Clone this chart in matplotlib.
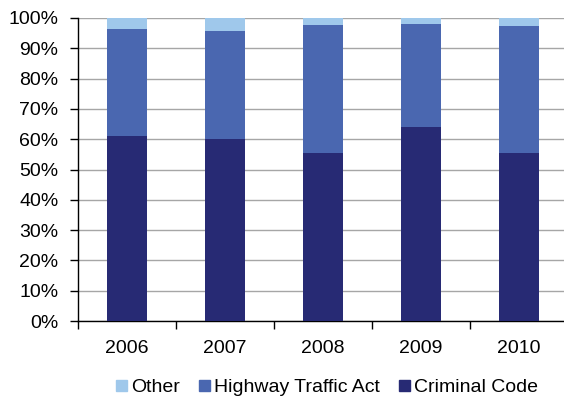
import numpy as np
import matplotlib.pyplot as plt
from matplotlib.patches import Patch
from matplotlib.ticker import PercentFormatter

plt.rcParams['font.family'] = ['Liberation Sans', 'DejaVu Sans']

# Share of charges by statute, per year (%)
years = ['2006', '2007', '2008', '2009', '2010']
criminal_code = [61.0, 60.0, 55.6, 64.1, 55.5]
highway_traffic = [35.4, 35.8, 42.1, 33.8, 41.9]
other = [3.6, 4.2, 2.3, 2.1, 2.6]

c_cc = '#272a74'
c_hta = '#4a67b0'
c_oth = '#9fc8eb'

fig = plt.figure(figsize=(5.64, 4.0), dpi=100)
ax = fig.add_axes([78/564, 79/400, 490/564, 303/400])

x = np.arange(len(years))
cc = np.array(criminal_code)
hta = np.array(highway_traffic)
oth = np.array(other)

ax.bar(x, cc, width=0.4, color=c_cc, zorder=3)
ax.bar(x, hta, width=0.4, bottom=cc, color=c_hta, zorder=3)
ax.bar(x, oth, width=0.4, bottom=cc + hta, color=c_oth, zorder=3)

ax.set_xlim(-0.5, 4.5)
ax.set_ylim(0, 100)
ax.set_yticks(np.arange(0, 101, 10))
ax.yaxis.set_major_formatter(PercentFormatter(decimals=0))
ax.yaxis.grid(True, color='#a6a6a6', linewidth=1.0, zorder=0)
ax.set_axisbelow(True)

# category labels centred, ticks on the boundaries
ax.set_xticks(x)
ax.set_xticklabels(years)
ax.set_xticks(np.arange(-0.5, 5.0, 1.0), minor=True)
ax.tick_params(axis='x', which='major', length=0, pad=14, labelsize=14)
ax.tick_params(axis='x', which='minor', length=6, width=1, direction='out')
ax.tick_params(axis='y', length=6, width=1, direction='out', labelsize=14, pad=8)

for s in ['top', 'right']:
    ax.spines[s].set_visible(False)
for s in ['left', 'bottom']:
    ax.spines[s].set_linewidth(1.0)
    ax.spines[s].set_color('black')

handles = [Patch(color=c_oth, label='Other'),
           Patch(color=c_hta, label='Highway Traffic Act'),
           Patch(color=c_cc, label='Criminal Code')]
fig.legend(handles=handles, loc='center', bbox_to_anchor=(327/564, 12/400),
           ncol=3, frameon=False, fontsize=14, handlelength=0.55,
           handleheight=0.55, handletextpad=0.2, columnspacing=1.0,
           borderpad=0)

fig.savefig('out.png', dpi=100)
